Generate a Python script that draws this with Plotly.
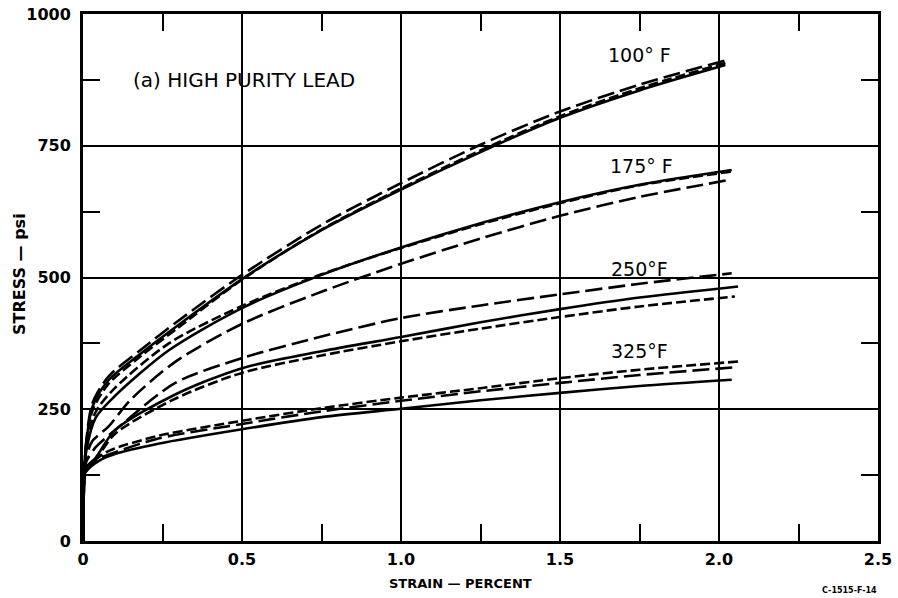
import plotly.graph_objects as go

# ---- data (strain %, stress psi) ----
x_100 = [0, 0.004, 0.01, 0.03, 0.08, 0.18, 0.3, 0.5, 0.75, 1.0, 1.25, 1.5, 1.75, 2.02]
y_100_solid = [0, 125, 185, 255, 305, 355, 410, 497, 590, 667, 738, 803, 855, 903]
y_100_long = [0, 125, 188, 262, 312, 362, 418, 505, 600, 679, 752, 815, 866, 912]
y_100_short = [0, 125, 180, 248, 298, 350, 405, 496, 591, 669, 741, 806, 859, 907]

x_175_solid = [0, 0.004, 0.01, 0.04, 0.1, 0.27, 0.5, 0.75, 1.0, 1.25, 1.5, 1.75, 2.04]
y_175_solid = [0, 125, 170, 234, 275, 362, 442, 505, 557, 603, 643, 676, 704]
y_175_short = [0, 125, 180, 245, 290, 375, 446, 506, 556, 601, 641, 675, 701]
x_175_long = [0, 0.004, 0.01, 0.03, 0.08, 0.15, 0.29, 0.5, 0.75, 1.0, 1.25, 1.5, 1.75, 2.04]
y_175_long = [0, 125, 160, 190, 217, 268, 340, 412, 473, 526, 574, 617, 653, 686]

x_250_long = [0, 0.004, 0.01, 0.04, 0.11, 0.29, 0.5, 0.75, 1.0, 1.25, 1.5, 1.75, 2.04]
y_250_long = [0, 125, 150, 178, 215, 300, 347, 388, 423, 447, 468, 488, 508]
x_250_solid = [0, 0.004, 0.01, 0.04, 0.1, 0.29, 0.5, 0.75, 1.0, 1.25, 1.5, 1.75, 2.06]
y_250_solid = [0, 125, 140, 158, 210, 278, 328, 360, 387, 415, 440, 462, 483]
x_250_short = [0, 0.004, 0.01, 0.04, 0.1, 0.29, 0.5, 0.75, 1.0, 1.25, 1.5, 1.75, 2.05]
y_250_short = [0, 125, 140, 155, 203, 270, 319, 352, 379, 403, 425, 445, 464]

x_325_solid = [0, 0.004, 0.01, 0.05, 0.1, 0.24, 0.5, 0.75, 1.0, 1.25, 1.5, 1.75, 2.04]
y_325_solid = [0, 125, 132, 152, 165, 185, 212, 235, 251, 267, 281, 294, 306]
x_325_short = [0, 0.004, 0.01, 0.04, 0.085, 0.24, 0.5, 0.75, 1.0, 1.25, 1.5, 1.75, 2.07]
y_325_short = [0, 125, 135, 155, 172, 200, 228, 252, 272, 290, 309, 325, 341]
x_325_long = [0, 0.004, 0.01, 0.04, 0.1, 0.24, 0.5, 0.75, 1.0, 1.25, 1.5, 1.75, 2.06]
y_325_long = [0, 125, 133, 153, 168, 195, 222, 246, 266, 284, 300, 315, 330]

x_ticks = [0, 0.5, 1.0, 1.5, 2.0, 2.5]
x_tick_text = ["0", "0.5", "1.0", "1.5", "2.0", "2.5"]
y_ticks = [0, 250, 500, 750, 1000]
y_tick_text = ["0", "250", "500", "750", "1000"]

temp_labels = ["100° F", "175° F", "250°F", "325°F"]
temp_label_x = [1.645, 1.65, 1.655, 1.655]
temp_label_y = [923, 711, 517, 360]

LONG = "17px,6px"
SHORT = "10px,4px"

curves = [
    (x_100, y_100_long, LONG), (x_100, y_100_short, SHORT), (x_100, y_100_solid, "solid"),
    (x_175_solid, y_175_short, SHORT), (x_175_solid, y_175_solid, "solid"), (x_175_long, y_175_long, LONG),
    (x_250_long, y_250_long, LONG), (x_250_solid, y_250_solid, "solid"), (x_250_short, y_250_short, SHORT),
    (x_325_short, y_325_short, SHORT), (x_325_long, y_325_long, LONG), (x_325_solid, y_325_solid, "solid"),
]

fig = go.Figure()
for xs, ys, dash in curves:
    fig.add_trace(go.Scatter(
        x=xs, y=ys, mode="lines",
        line=dict(color="black", width=2.6, dash=dash, shape="spline", smoothing=0.8),
        showlegend=False, hoverinfo="skip"))

tickfont = dict(family="DejaVu Sans", size=16, color="black", weight="bold")

fig.update_layout(
    width=898, height=598,
    margin=dict(l=83, r=20, t=14, b=57, autoexpand=False),
    paper_bgcolor="white", plot_bgcolor="white",
    showlegend=False,
    xaxis=dict(
        range=[0, 2.5], tickmode="array", tickvals=x_ticks, ticktext=x_tick_text,
        showgrid=True, gridcolor="black", gridwidth=2,
        showline=True, linecolor="black", linewidth=3, mirror="ticks",
        ticks="inside", ticklen=0, tickfont=tickfont, ticklabelstandoff=2,
        minor=dict(tickvals=[0.25, 0.75, 1.25, 1.75, 2.25], ticks="inside",
                   ticklen=17, tickwidth=2, tickcolor="black", showgrid=False),
        zeroline=False, fixedrange=True, automargin=False,
    ),
    yaxis=dict(
        range=[0, 1000], tickmode="array", tickvals=y_ticks, ticktext=y_tick_text,
        showgrid=True, gridcolor="black", gridwidth=2,
        showline=True, linecolor="black", linewidth=3, mirror="ticks",
        ticks="inside", ticklen=0, tickfont=tickfont, ticklabelstandoff=6,
        minor=dict(tickvals=[125, 375, 625, 875], ticks="inside",
                   ticklen=17, tickwidth=2, tickcolor="black", showgrid=False),
        zeroline=False, fixedrange=True, automargin=False,
    ),
)

label_font = dict(family="DejaVu Sans", size=19, color="black")
for t, lx, ly in zip(temp_labels, temp_label_x, temp_label_y):
    fig.add_annotation(x=lx, y=ly, text=t, showarrow=False, xanchor="left",
                       yanchor="middle", font=label_font)

fig.add_annotation(x=0.15, y=874, text="(a) HIGH PURITY LEAD", showarrow=False,
                   xanchor="left", yanchor="middle",
                   font=dict(family="DejaVu Sans", size=20, color="black"))

fig.add_annotation(xref="paper", yref="paper", x=-0.079, y=0.507,
                   text="STRESS — psi", textangle=-90, showarrow=False,
                   xanchor="center", yanchor="middle",
                   font=dict(family="DejaVu Sans", size=16, color="black", weight="bold"))
fig.add_annotation(xref="paper", yref="paper", x=0.475, y=-0.08,
                   text="STRAIN — PERCENT", showarrow=False,
                   xanchor="center", yanchor="middle",
                   font=dict(family="DejaVu Sans", size=13, color="black", weight="bold"))
fig.add_annotation(xref="paper", yref="paper", x=0.927, y=-0.093,
                   text="C-1515-F-14", showarrow=False,
                   xanchor="left", yanchor="middle",
                   font=dict(family="DejaVu Sans", size=8, color="black", weight="bold"))

fig.write_html("out.html")
